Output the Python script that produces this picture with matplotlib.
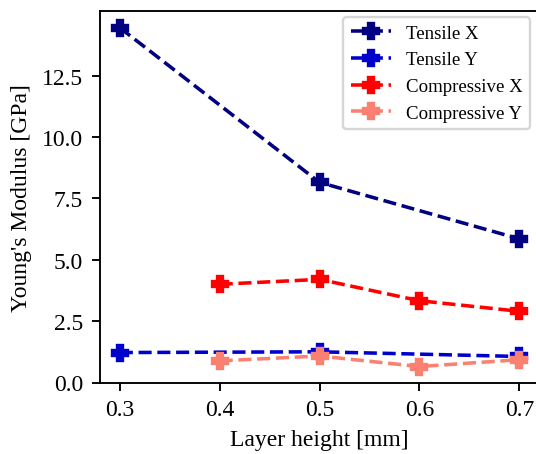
import matplotlib
matplotlib.use("Agg")
import matplotlib.pyplot as plt

plt.rcParams['font.family'] = ['Liberation Serif', 'DejaVu Serif']

tx_x = [0.3, 0.5, 0.7]
tx_y = [14.45, 8.15, 5.85]
ty_x = [0.3, 0.5, 0.7]
ty_y = [1.22, 1.25, 1.06]
cx_x = [0.4, 0.5, 0.6, 0.7]
cx_y = [4.0, 4.2, 3.33, 2.9]
cy_x = [0.4, 0.5, 0.6, 0.7]
cy_y = [0.88, 1.08, 0.65, 0.93]

DPI = 170
W, H = 536, 455
fig = plt.figure(figsize=(W / DPI, H / DPI), dpi=DPI)
ax_l, ax_r, ax_t, ax_b = 99.5, 540, 12, 383.5
ax = fig.add_axes([ax_l / W, (H - ax_b) / H, (ax_r - ax_l) / W, (ax_b - ax_t) / H])

kw = dict(linestyle='--', marker='P', markersize=7, linewidth=1.5)
ax.plot(tx_x, tx_y, color='navy', label='Tensile X', **kw)
ax.plot(ty_x, ty_y, color='mediumblue', label='Tensile Y', **kw)
ax.plot(cx_x, cx_y, color='red', label='Compressive X', **kw)
ax.plot(cy_x, cy_y, color='salmon', label='Compressive Y', **kw)

ax.set_xlim(0.2797, 0.7207)
ax.set_ylim(0, 15.13)
ax.set_xticks([0.3, 0.4, 0.5, 0.6, 0.7])
ax.set_yticks([0, 2.5, 5.0, 7.5, 10.0, 12.5])
ax.set_yticklabels(['0.0', '2.5', '5.0', '7.5', '10.0', '12.5'])
ax.tick_params(labelsize=10)
ax.spines['right'].set_visible(False)
ax.set_xlabel('Layer height [mm]', fontsize=10)
ax.set_ylabel("Young's Modulus [GPa]", fontsize=10)
ax.legend(loc='upper right', fontsize=8, borderaxespad=0, handlelength=2.1,
          bbox_to_anchor=((530 - ax_l) / (ax_r - ax_l), (ax_b - 18) / (ax_b - ax_t)))

fig.savefig('out.png', dpi=DPI)
